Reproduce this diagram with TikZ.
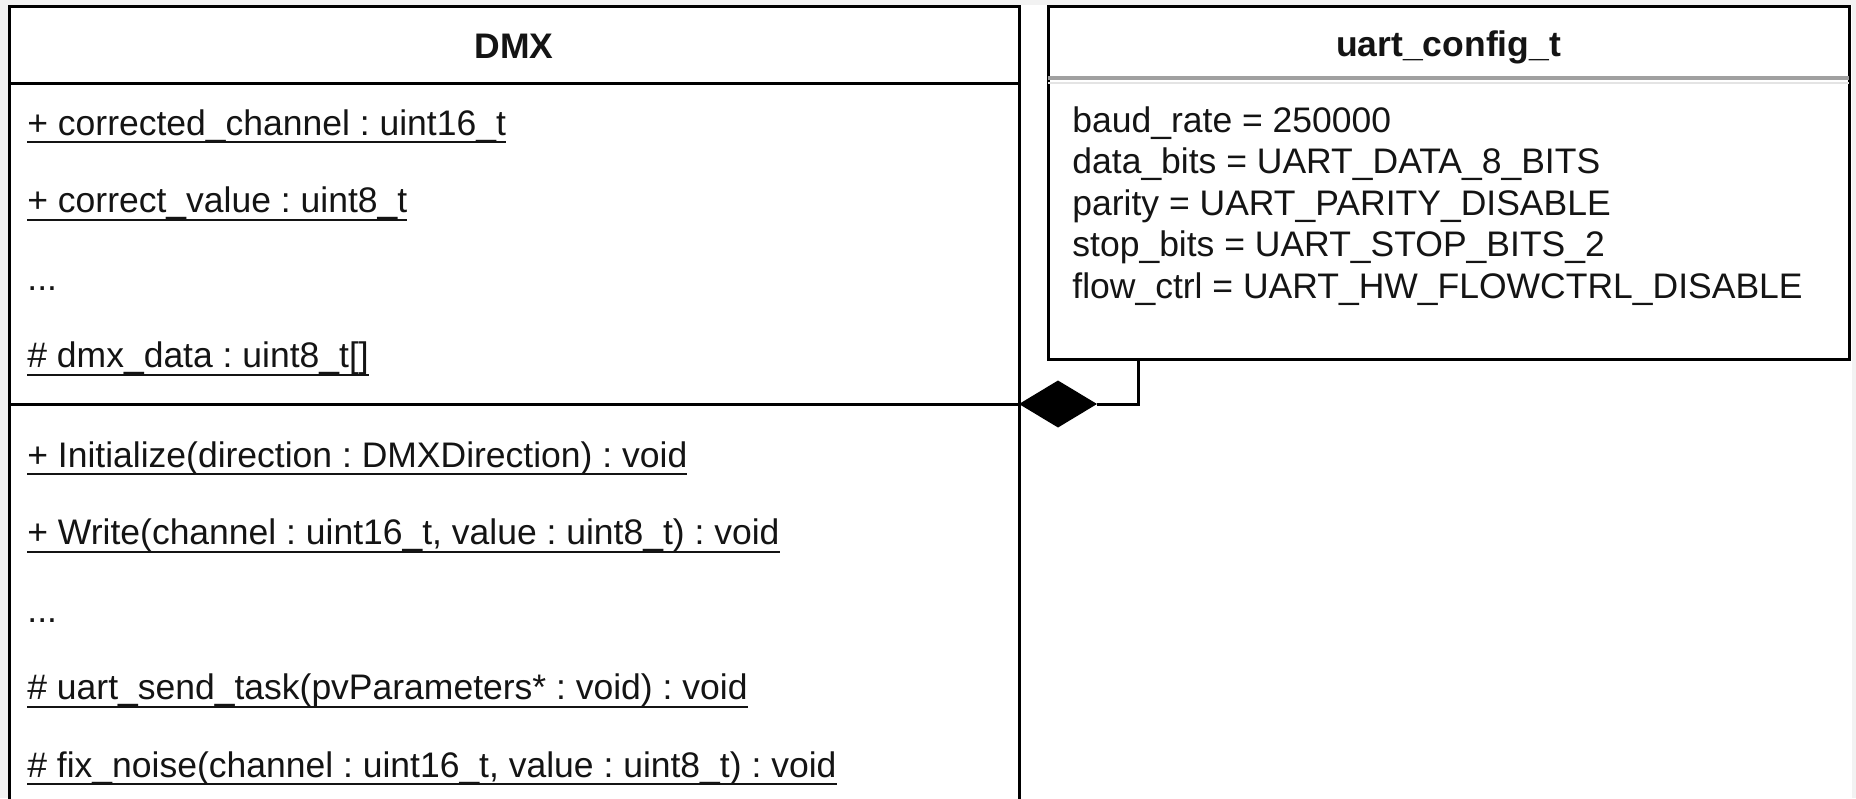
\documentclass[tikz,border=0pt]{standalone}
\usepackage{fontspec}
\setmainfont{Liberation Sans}
\usetikzlibrary{shapes.geometric}
\definecolor{bggray}{HTML}{F2F2F2}
\definecolor{hdrgray}{HTML}{A0A0A0}
\definecolor{hdrshadow}{HTML}{E4E4E4}
\definecolor{ink}{HTML}{141414}
\frenchspacing
\newcommand\ulx[1]{\setbox0=\hbox{#1}\rlap{\rule[-0.235em]{\wd0}{0.065em}}\box0}
\tikzset{
  box/.style={draw=black, line width=1.5pt, fill=white, inner sep=0pt, outer sep=0pt, anchor=north west},
  sepline/.style={draw=black, line width=1.5pt},
  titletext/.style={font=\bfseries\fontsize{17.75}{20.4}\selectfont, text=ink, inner sep=0pt, anchor=base},
  member/.style={font=\fontsize{17.75}{20.4}\selectfont\frenchspacing, text=ink, anchor=base west, inner sep=0pt},
  conn/.style={draw=black, line width=1.5pt},
}
\begin{document}
\begin{tikzpicture}[x=0.5pt,y=-0.5pt]
\useasboundingbox (0,0) rectangle (1856,798);
\fill[bggray] (0,0) rectangle (1856,798);
\fill[white] (8,5) rectangle (1852,798);

% boxes
\node[box, minimum width=504.75pt, minimum height=410pt] (dmx) at (9.5,6.5) {};
\node[box, minimum width=400.5pt, minimum height=176.25pt] (uart) at (1048,6.5) {};

% DMX compartments
\coordinate (dmxhdr) at (9.5,83.5);
\coordinate (dmxsep) at (9.5,404);
\draw[sepline] (dmxhdr) -- (dmxhdr -| dmx.east);
\draw[sepline] (dmxsep) -- (dmxsep -| dmx.east);

% uart header line
\coordinate (uarthdr) at (1048,78);
\draw[hdrshadow, line width=1.2pt] ([yshift=-2.4pt]uarthdr) -- ([yshift=-2.4pt]uarthdr -| uart.east);
\draw[hdrgray, line width=1.6pt] (uarthdr) -- (uarthdr -| uart.east);

% titles
\node[titletext] (dmxtitle) at (514,58) {DMX};
\node[titletext] (uarttitle) at (1448.5,56) {uart\_config\_t};

% DMX attributes
\node[member] (a1) at (27,135) {\ulx{+ corrected\_channel : uint16\_t}};
\node[member] (a2) at (27,212.5) {\ulx{+ correct\_value : uint8\_t}};
\node[member] (a3) at (27,290) {...};
\node[member] (a4) at (27,367.5) {\ulx{\# dmx\_data : uint8\_t[]}};

% DMX methods
\node[member] (m1) at (27,467) {\ulx{+ Initialize(direction : DMXDirection) : void}};
\node[member] (m2) at (27,544.5) {\ulx{+ Write(channel : uint16\_t, value : uint8\_t) : void}};
\node[member] (m3) at (27,622) {...};
\node[member] (m4) at (27,699.5) {\ulx{\# uart\_send\_task(pvParameters* : void) : void}};
\node[member] (m5) at (27,777) {\ulx{\# fix\_noise(channel : uint16\_t, value : uint8\_t) : void}};

% uart attributes
\node[member] (u1) at (1072,132) {baud\_rate = 250000};
\node[member] (u2) at (1072,173.5) {data\_bits = UART\_DATA\_8\_BITS};
\node[member] (u3) at (1072,215) {parity = UART\_PARITY\_DISABLE};
\node[member] (u4) at (1072,256.5) {stop\_bits = UART\_STOP\_BITS\_2};
\node[member] (u5) at (1072,298) {flow\_ctrl = UART\_HW\_FLOWCTRL\_DISABLE};

% composition connector
\node[diamond, fill=black, draw=none, inner sep=0pt, outer sep=0pt, minimum width=39pt, minimum height=23.5pt, anchor=west] (comp) at (dmxsep -| dmx.east) {};
\draw[conn] (comp.east) -| (uart.south -| 1138,0);
\end{tikzpicture}
\end{document}
